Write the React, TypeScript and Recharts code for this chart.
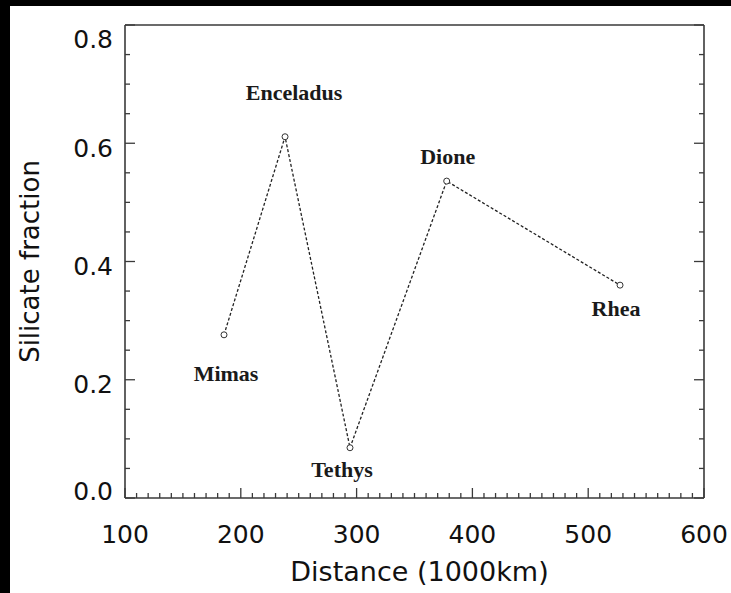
import { LineChart, Line, XAxis, YAxis, LabelList } from 'recharts';

const MOONS = ['Mimas', 'Enceladus', 'Tethys', 'Dione', 'Rhea'];
const DISTANCE = [185.5, 238.2, 294.3, 377.8, 527.5];
const SILICATE = [0.276, 0.611, 0.085, 0.536, 0.36];

const X_MAJOR = [100, 200, 300, 400, 500, 600];
const Y_MAJOR = [0, 0.2, 0.4, 0.6, 0.8];
// minor ticks every 10 (x) and 0.05 (y)
const X_TICKS = Array.from({ length: 51 }, (_, i) => 100 + i * 10);
const Y_TICKS = Array.from({ length: 17 }, (_, i) => (i * 5) / 100);

const data = MOONS.map((name, i) => ({ name, distance: DISTANCE[i], silicate: SILICATE[i] }));

// where each moon name sits relative to its point
const LABEL_OFFSET: Record<string, [number, number]> = {
  Mimas: [2, 39],
  Enceladus: [9, -44],
  Tethys: [-8, 22],
  Dione: [1, -25],
  Rhea: [-4, 23],
};

const AXIS = '#3a3a3a';
const TICK_FONT = 'DejaVu Sans, sans-serif';

const isXMajor = (v: number) => X_MAJOR.includes(v);
const isYMajor = (v: number) => Y_MAJOR.some(m => Math.abs(m - v) < 1e-6);

function BottomTick(props: any) {
  const { x, y, payload } = props;
  const v = payload.value;
  const len = isXMajor(v) ? 10 : 5;
  return (
    <g>
      <line x1={x} y1={y} x2={x} y2={y - len} stroke={AXIS} strokeWidth={1.3} />
      {isXMajor(v) && (
        <text x={x} y={y + 36} textAnchor="middle" dominantBaseline="central" fontSize={25} fontFamily={TICK_FONT} fill="#111">
          {v}
        </text>
      )}
    </g>
  );
}

function TopTick(props: any) {
  const { x, y, payload } = props;
  const len = isXMajor(payload.value) ? 10 : 5;
  return <line x1={x} y1={y} x2={x} y2={y + len} stroke={AXIS} strokeWidth={1.3} />;
}

function LeftTick(props: any) {
  const { x, y, payload } = props;
  const v = payload.value;
  const major = isYMajor(v);
  let dy = 5;
  if (v >= 0.8 - 1e-6) dy = 14;
  if (v <= 1e-6) dy = -7;
  return (
    <g>
      <line x1={x} y1={y} x2={x + (major ? 10 : 5)} y2={y} stroke={AXIS} strokeWidth={1.3} />
      {major && (
        <text x={x - 12} y={y + dy} textAnchor="end" dominantBaseline="central" fontSize={25} fontFamily={TICK_FONT} fill="#111">
          {v.toFixed(1)}
        </text>
      )}
    </g>
  );
}

function RightTick(props: any) {
  const { x, y, payload } = props;
  const len = isYMajor(payload.value) ? 10 : 5;
  return <line x1={x} y1={y} x2={x - len} y2={y} stroke={AXIS} strokeWidth={1.3} />;
}

function MoonDot(props: any) {
  const { cx, cy } = props;
  return <circle cx={cx} cy={cy} r={3} fill="#fff" stroke="#333" strokeWidth={1} />;
}

function MoonLabel(props: any) {
  const { x, y, value } = props;
  const [dx, dy] = LABEL_OFFSET[value] || [0, 0];
  return (
    <text x={x + dx} y={y + dy} textAnchor="middle" dominantBaseline="central" fontSize={22} fontWeight="bold" fontFamily="Liberation Serif, serif" fill="#1a1a1a">
      {value}
    </text>
  );
}

export default function App() {
  return (
    <div style={{ width: 731, height: 593, background: '#000', position: 'relative', overflow: 'hidden' }}>
      <style>{`body{margin:0}`}</style>
      <div style={{ position: 'absolute', left: 10, top: 6, width: 721, height: 587, background: '#fff' }}>
        <LineChart width={721} height={587} data={data} margin={{ top: 18, right: 26, bottom: 15, left: 15 }}>
          <XAxis
            xAxisId="b"
            dataKey="distance"
            type="number"
            domain={[100, 600]}
            allowDataOverflow
            ticks={X_TICKS}
            interval={0}
            tickSize={0}
            tickMargin={0}
            tickLine={false}
            tick={<BottomTick />}
            axisLine={{ stroke: AXIS, strokeWidth: 1.6 }}
            height={80}
            label={{ value: 'Distance (1000km)', position: 'insideBottom', offset: -3, dx: 5, fontSize: 27, fontFamily: TICK_FONT, fill: '#111' }}
          />
          <XAxis
            xAxisId="t"
            orientation="top"
            type="number"
            domain={[100, 600]}
            allowDataOverflow
            ticks={X_TICKS}
            interval={0}
            tickSize={0}
            tickMargin={0}
            tickLine={false}
            tick={<TopTick />}
            axisLine={{ stroke: AXIS, strokeWidth: 1.6 }}
            height={1}
          />
          <YAxis
            yAxisId="l"
            dataKey="silicate"
            type="number"
            domain={[0, 0.8]}
            allowDataOverflow
            ticks={Y_TICKS}
            interval={0}
            tickSize={0}
            tickMargin={0}
            tickLine={false}
            tick={<LeftTick />}
            axisLine={{ stroke: AXIS, strokeWidth: 1.6 }}
            width={100}
            label={{ value: 'Silicate fraction', angle: -90, position: 'insideLeft', offset: 5, fontSize: 26, fontFamily: TICK_FONT, fill: '#111', style: { textAnchor: 'middle' } }}
          />
          <YAxis
            yAxisId="r"
            orientation="right"
            type="number"
            domain={[0, 0.8]}
            allowDataOverflow
            ticks={Y_TICKS}
            interval={0}
            tickSize={0}
            tickMargin={0}
            tickLine={false}
            tick={<RightTick />}
            axisLine={{ stroke: AXIS, strokeWidth: 1.6 }}
            width={1}
          />
          <Line
            xAxisId="b"
            yAxisId="l"
            dataKey="silicate"
            type="linear"
            stroke="#222"
            strokeWidth={1.3}
            strokeDasharray="3 2"
            dot={<MoonDot />}
            activeDot={false}
            isAnimationActive={false}
          >
            <LabelList dataKey="name" content={<MoonLabel />} />
          </Line>
        </LineChart>
      </div>
    </div>
  );
}
